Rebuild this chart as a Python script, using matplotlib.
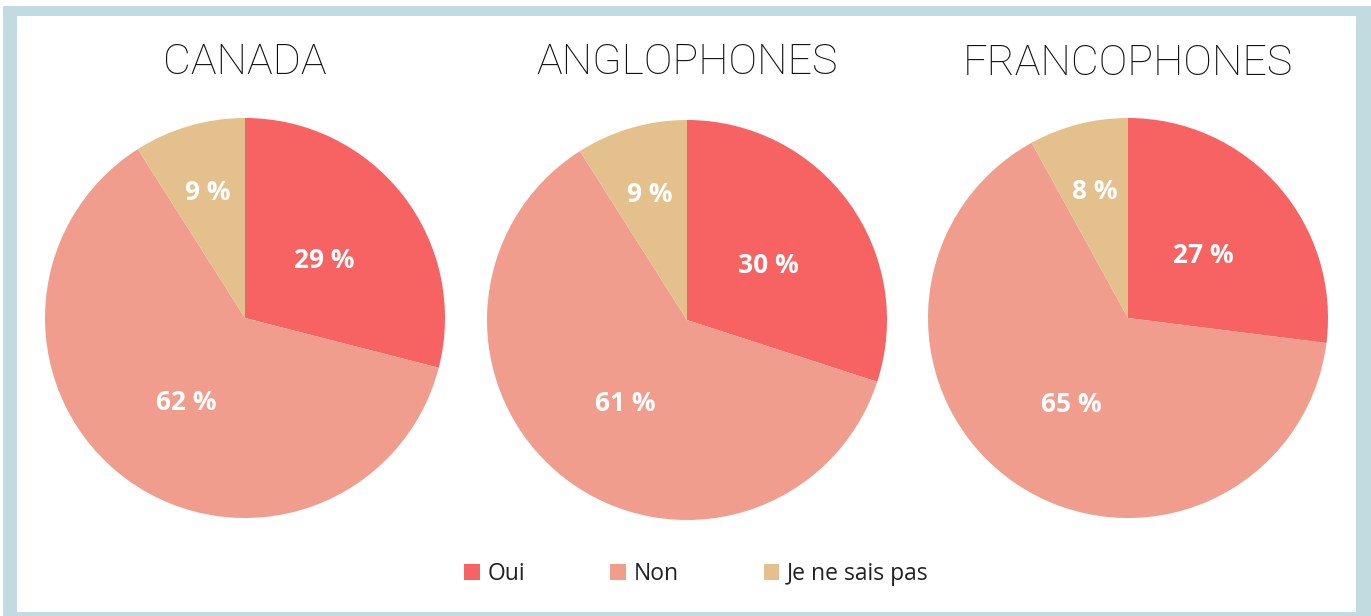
import matplotlib.pyplot as plt
import numpy as np
from matplotlib.patches import Rectangle, Patch

# data
groups = ['CANADA', 'ANGLOPHONES', 'FRANCOPHONES']
answers = ['Oui', 'Non', 'Je ne sais pas']
canada = [29, 62, 9]
anglophones = [30, 61, 9]
francophones = [27, 65, 8]
colors = ['#f76262', '#f09d8e', '#e4c18c']

W, H = 1371, 616
fig = plt.figure(figsize=(W / 100, H / 100), dpi=100)
fig.patch.set_facecolor('white')

# light blue frame
fig.patches.append(Rectangle((3 / W, 0), (W - 3) / W, (H - 6) / H,
                             transform=fig.transFigure, facecolor='#c1dbe0',
                             edgecolor='none', zorder=-10))
fig.patches.append(Rectangle((17 / W, 4 / H), (1356 - 17) / W, (H - 16 - 4) / H,
                             transform=fig.transFigure, facecolor='white',
                             edgecolor='none', zorder=-9))

centers = [(245, 318), (687, 320), (1128, 318)]
r = 200
label_dist = [0.5, 0.5, 0.675]

for name, vals, (cx, cy) in zip(groups, [canada, anglophones, francophones], centers):
    ax = fig.add_axes([(cx - r) / W, (H - cy - r) / H, 2 * r / W, 2 * r / H])
    ax.set_zorder(1)
    wedges, _ = ax.pie(vals, colors=colors, startangle=90, counterclock=False,
                       radius=1, wedgeprops=dict(linewidth=0))
    for w, v, d in zip(wedges, vals, label_dist):
        a = np.deg2rad((w.theta1 + w.theta2) / 2)
        ax.text(d * np.cos(a), d * np.sin(a) - 0.02, f'{v} %', ha='center', va='center',
                color='white', fontsize=19, fontweight='bold', family='Open Sans')
    ax.set_xlim(-1, 1)
    ax.set_ylim(-1, 1)
    ax.set_aspect('equal')
    ax.axis('off')
    fig.text(cx / W, 1 - 63 / H, name, ha='center', va='center', fontsize=31,
             family='Roboto', fontweight='light', color='#111111')

handles = [Patch(facecolor=c, edgecolor='none') for c in colors]
leg = fig.legend(handles, answers, loc='center', bbox_to_anchor=(0.508, 1 - 574 / H),
                 ncol=3, frameon=False, handlelength=0.68, handleheight=0.68,
                 handletextpad=0.35, columnspacing=3.7,
                 prop={'family': 'Open Sans', 'size': 16.5})
for t in leg.get_texts():
    t.set_color('#222222')

fig.savefig('out.png', dpi=100)
